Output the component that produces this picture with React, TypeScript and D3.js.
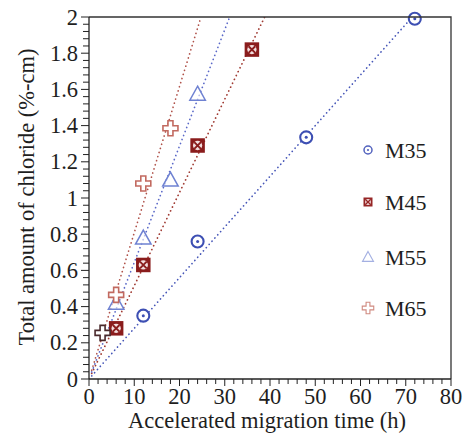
import React from "react";
import * as d3 from "d3";

// Chloride uptake versus accelerated migration time for four concrete mixes
const hoursM35 = [12, 24, 48, 72];
const chlorideM35 = [0.35, 0.76, 1.335, 1.99];
const hoursM45 = [6, 12, 24, 36];
const chlorideM45 = [0.28, 0.63, 1.29, 1.82];
const hoursM55 = [6, 12, 18, 24];
const chlorideM55 = [0.42, 0.78, 1.1, 1.575];
const hoursM65 = [3, 6, 12, 18];
const chlorideM65 = [0.255, 0.465, 1.08, 1.385];

const seriesNames = ["M35", "M45", "M55", "M65"];
const xTicks = [0, 10, 20, 30, 40, 50, 60, 70, 80];
const yTicks = [0, 0.2, 0.4, 0.6, 0.8, 1, 1.2, 1.4, 1.6, 1.8, 2];

const W = 470;
const H = 439;
const left = 89;
const right = 451;
const top = 17;
const bottom = 379;

const x = d3.scaleLinear().domain([0, 80]).range([left, right]);
const y = d3.scaleLinear().domain([0, 2]).range([bottom, top]);

type Kind = "circle" | "square" | "triangle" | "cross";

const seriesList: { name: string; xs: number[]; ys: number[]; kind: Kind; line: string; color: string; legend: string; xEnd?: number }[] = [
  { name: seriesNames[0], xs: hoursM35, ys: chlorideM35, kind: "circle", line: "#4656b8", color: "#3d4fb3", legend: "#5262be", xEnd: 72 },
  { name: seriesNames[1], xs: hoursM45, ys: chlorideM45, kind: "square", line: "#a03a32", color: "#8a1c1c", legend: "#962626" },
  { name: seriesNames[2], xs: hoursM55, ys: chlorideM55, kind: "triangle", line: "#5a68c8", color: "#6f82d2", legend: "#a4b0e2" },
  { name: seriesNames[3], xs: hoursM65, ys: chlorideM65, kind: "cross", line: "#b0524a", color: "#c26a60", legend: "#d08a80" },
];

// least-squares slope for a line through the origin
function slopeThroughOrigin(xs: number[], ys: number[]) {
  const sxy = d3.sum(xs, (v, i) => v * ys[i]);
  const sxx = d3.sum(xs, (v) => v * v);
  return sxy / sxx;
}

function Marker({ kind, cx, cy, s, color, stroke }: { kind: Kind; cx: number; cy: number; s: number; color: string; stroke?: string }) {
  const c = stroke || color;
  const big = s > 13;
  if (kind === "circle") {
    return (
      <g>
        <circle cx={cx} cy={cy} r={s / 2 - 1} fill="white" stroke={c} strokeWidth={big ? 2.1 : 1.5} />
        <circle cx={cx} cy={cy} r={big ? 1.5 : 1.1} fill={c} />
      </g>
    );
  }
  if (kind === "square") {
    const h = s / 2;
    const r = s * 0.32;
    const d = r * 0.72;
    return (
      <g>
        <rect x={cx - h} y={cy - h} width={s} height={s} fill={c} />
        <circle cx={cx} cy={cy} r={r} fill="#f2dede" />
        <path d={`M${cx - d},${cy - d}L${cx + d},${cy + d}M${cx - d},${cy + d}L${cx + d},${cy - d}`} stroke={c} strokeWidth={big ? 1.9 : 1.3} />
      </g>
    );
  }
  if (kind === "triangle") {
    const h = s / 2;
    return (
      <path
        d={`M${cx},${cy - h}L${cx + h},${cy + h * 0.8}L${cx - h},${cy + h * 0.8}Z`}
        fill="white"
        fillOpacity={0.6}
        stroke={c}
        strokeWidth={big ? 1.5 : 1.1}
      />
    );
  }
  const a = s / 2;
  const b = s / 6;
  return (
    <path
      d={`M${cx - b},${cy - a}H${cx + b}V${cy - b}H${cx + a}V${cy + b}H${cx + b}V${cy + a}H${cx - b}V${cy + b}H${cx - a}V${cy - b}H${cx - b}Z`}
      fill="white"
      stroke={c}
      strokeWidth={big ? 1.6 : 1.1}
    />
  );
}

const serif = "'Times New Roman', 'Liberation Serif', 'DejaVu Serif', serif";
const txt = { fontFamily: serif, fill: "#1e1e1e" };
const markerSize: Record<Kind, number> = { circle: 14, square: 14.5, triangle: 15.5, cross: 15 };
const legendSize: Record<Kind, number> = { circle: 10, square: 9, triangle: 11, cross: 11.5 };

export default function App() {
  const xMinor = d3.range(0, 81, 2);
  const yMinor = d3.range(0, 2.0001, 0.04);
  const legendY = [150, 202, 257, 308];

  return (
    <svg width={W} height={H} style={{ position: "absolute", left: 0, top: 0 }}>
      <rect width={W} height={H} fill="white" />
      <defs>
        <clipPath id="plot">
          <rect x={left} y={top} width={right - left} height={bottom - top} />
        </clipPath>
      </defs>

      {/* fitted trend lines */}
      <g clipPath="url(#plot)">
        {seriesList.map((s) => {
          const k = slopeThroughOrigin(s.xs, s.ys);
          const xStart = 0.6;
          const xStop = s.xEnd !== undefined ? Math.min(s.xEnd, 2 / k) : 2 / k;
          return (
            <line
              key={s.name}
              x1={x(xStart)}
              y1={y(k * xStart)}
              x2={x(xStop)}
              y2={y(k * xStop)}
              stroke={s.line}
              strokeWidth={1.7}
              strokeDasharray="0.1 4.2"
              strokeLinecap="round"
            />
          );
        })}
      </g>

      {/* data markers */}
      {seriesList.map((s) =>
        s.xs.map((v, i) => (
          <Marker
            key={s.name + i}
            kind={s.kind}
            cx={x(v)}
            cy={y(s.ys[i])}
            s={markerSize[s.kind]}
            color={s.color}
            stroke={s.kind === "cross" && v === 3 ? "#4a2a2c" : undefined}
          />
        ))
      )}

      {/* frame */}
      <path d={`M${left},${top}H${right}V${bottom}`} fill="none" stroke="#333" strokeWidth={1.3} />
      <line x1={left} y1={top} x2={left} y2={bottom} stroke="#222" strokeWidth={1.3} />
      <line x1={left} y1={bottom} x2={right} y2={bottom} stroke="#222" strokeWidth={1.3} />

      {/* x axis ticks */}
      {xMinor.map((v) => (
        <line key={"xm" + v} x1={x(v)} x2={x(v)} y1={bottom} y2={bottom + (v % 10 === 0 ? 7 : 5)} stroke="#222" strokeWidth={1} />
      ))}
      {xTicks.map((v) => (
        <text key={"xt" + v} x={x(v)} y={bottom + 25} textAnchor="middle" fontSize={22.5} style={txt}>
          {v}
        </text>
      ))}
      <text x={(left + right) / 2 - 3} y={bottom + 49} textAnchor="middle" fontSize={22.5} style={txt}>
        Accelerated migration time (h)
      </text>

      {/* y axis ticks */}
      {yMinor.map((v, i) => (
        <line key={"ym" + i} x1={left - (i % 5 === 0 ? 8 : 6)} x2={left} y1={y(v)} y2={y(v)} stroke="#222" strokeWidth={1} />
      ))}
      {yTicks.map((v) => (
        <text key={"yt" + v} x={left - 11} y={y(v) + 7.5} textAnchor="end" fontSize={22.5} style={txt}>
          {v}
        </text>
      ))}
      <text
        transform={`translate(34,${(top + bottom) / 2 - 1}) rotate(-90)`}
        textAnchor="middle"
        fontSize={22.5}
        style={txt}
      >
        Total amount of chloride (%-cm)
      </text>

      {/* legend */}
      {seriesList.map((s, i) => (
        <g key={"lg" + s.name}>
          <Marker kind={s.kind} cx={368} cy={legendY[i]} s={legendSize[s.kind]} color={s.legend} />
          <text x={385} y={legendY[i] + 7.5} fontSize={22} style={txt}>
            {s.name}
          </text>
        </g>
      ))}
    </svg>
  );
}
